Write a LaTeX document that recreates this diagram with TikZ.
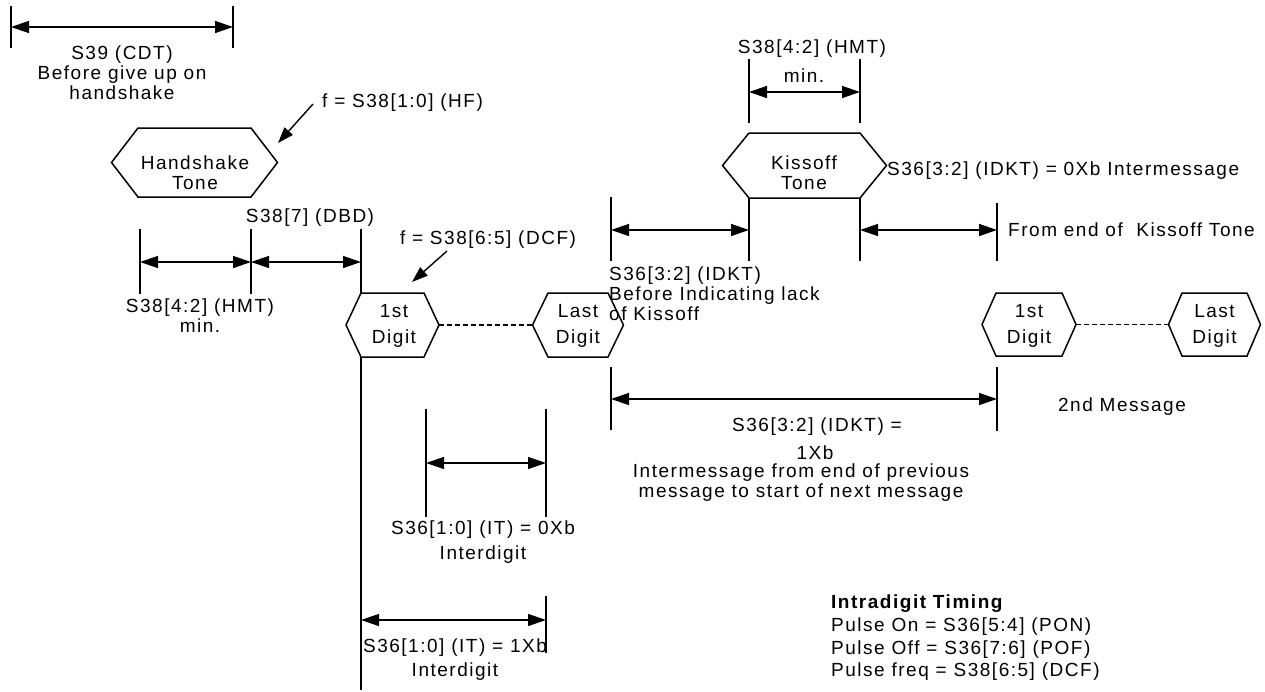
\documentclass[tikz,border=0pt]{standalone}
\usepackage{fontspec}
\setmainfont{Liberation Sans}[LetterSpace=8]
\usetikzlibrary{arrows.meta}
\tikzset{
  ln/.style={line width=1.5pt},
  dimline/.style={line width=1.4pt,{Triangle[length=18pt,width=12pt]}-{Triangle[length=18pt,width=12pt]}},
  ptr/.style={line width=1.4pt,-{Triangle[length=16pt,width=11pt]}},
  dashline/.style={line width=1.2pt,dash pattern=on 5pt off 3pt},
  txt/.style={font=\fontsize{19}{20}\selectfont,inner sep=0pt,align=center},
  txtl/.style={font=\fontsize{19}{20}\selectfont,inner sep=0pt,align=left,anchor=west},
  hexcore/.style={inner sep=0pt,outer sep=0pt,minimum width=#1},
}
\newcommand{\hexoutline}[2]{%
  \draw[ln,line join=miter] (#1.north west) -- (#1.north east) -- ([xshift=#2]#1.east) -- (#1.south east) -- (#1.south west) -- ([xshift=-#2]#1.west) -- cycle;}
\begin{document}
\begin{tikzpicture}[x=1pt,y=-1pt]
\useasboundingbox (0,0) rectangle (1265,691);

% ---------- hexagon cores ----------
\node[hexcore=113,minimum height=69] (hs)  at (194.5,162.5) {};
\node[hexcore=111,minimum height=65] (ko)  at (804.5,165.5) {};
\node[hexcore=63,minimum height=64]  (d1)  at (392.5,325) {};
\node[hexcore=60,minimum height=64]  (dl)  at (578,325) {};
\node[hexcore=66,minimum height=63]  (d2)  at (1029,324.5) {};
\node[hexcore=65,minimum height=63]  (dl2) at (1214.5,324.5) {};
\hexoutline{hs}{26.5}
\hexoutline{ko}{26.5}
\hexoutline{d1}{15}
\hexoutline{dl}{15.5}
\hexoutline{d2}{14}
\hexoutline{dl2}{13.5}

\node[txt] (hst)  at (195,173)   {Handshake\\Tone};
\node[txt] (kot)  at (804,172.5) {Kissoff\\Tone};
\node[txt] (d1t)  at (394,325.5) {1st\\[6pt]Digit};
\node[txt] (dlt)  at (578,325.5) {Last\\[6pt]Digit};
\node[txt] (d2t)  at (1029,326)  {1st\\[6pt]Digit};
\node[txt] (dl2t) at (1214.5,326){Last\\[6pt]Digit};

\draw[dashline] ([xshift=15]d1.east) -- ([xshift=-15.5]dl.west);
\draw[dashline] ([xshift=14]d2.east) -- ([xshift=-13.5]dl2.west);

% ---------- S39 (CDT) ----------
\coordinate (c1t) at (11,6);   \coordinate (c1b) at (11,48);
\coordinate (c2t) at (233,6);  \coordinate (c2b) at (233,48);
\coordinate (c1m) at (11,27);  \coordinate (c2m) at (233,27);
\draw[ln] (c1t) -- (c1b);
\draw[ln] (c2t) -- (c2b);
\draw[dimline] (c1m) -- (c2m);
\node[txt] (cdt) at (122,73) {S39 (CDT)\\Before give up on\\handshake};

% ---------- HF pointer ----------
\node[txtl] (hf) at (322,103) {f = S38[1:0] (HF)};
\coordinate (hfs) at (313,104);
\coordinate (hfe) at (278,143);
\draw[ptr] (hfs) -- (hfe);

% ---------- HMT / DBD (left) ----------
\coordinate (h1t) at (140,229); \coordinate (h1b) at (140,294);
\coordinate (h2t) at (251,229); \coordinate (h2b) at (251,294);
\coordinate (mt)  at (361,229);
\coordinate (mb)  at (361,690);
\coordinate (h1m) at (140,262); \coordinate (h2m) at (251,262); \coordinate (h3m) at (361,262);
\draw[ln] (h1t) -- (h1b);
\draw[ln] (h2t) -- (h2b);
\draw[ln] (mt) -- (d1.north west);
\draw[ln] (d1.south west) -- (mb);
\draw[dimline] (h1m) -- (h2m);
\draw[dimline] (h2m) -- (h3m);
\node[txt] (dbd) at (310,218) {S38[7] (DBD)};
\node[txt] (hmt1) at (200,316) {S38[4:2] (HMT)\\min.};

% ---------- DCF pointer ----------
\node[txt] (dcf) at (488,240) {f = S38[6:5] (DCF)};
\coordinate (dcfs) at (447,251);
\coordinate (dcfe) at (412,282);
\draw[ptr] (dcfs) -- (dcfe);

% ---------- Interdigit 0Xb ----------
\coordinate (i1t) at (426,409); \coordinate (i1b) at (426,517);
\coordinate (i2t) at (546,409); \coordinate (i2b) at (546,517);
\coordinate (i1m) at (426,463); \coordinate (i2m) at (546,463);
\draw[ln] (i1t) -- (i1b);
\draw[ln] (i2t) -- (i2b);
\draw[dimline] (i1m) -- (i2m);
\node[txt] (it0) at (483,542.5) {S36[1:0] (IT) = 0Xb\\[5pt]Interdigit};

% ---------- Interdigit 1Xb ----------
\coordinate (j2t) at (546,596); \coordinate (j2b) at (546,653);
\coordinate (j1m) at (361,620); \coordinate (j2m) at (546,620);
\draw[ln] (j2t) -- (j2b);
\draw[dimline] (j1m) -- (j2m);
\node[txt] (it1) at (455,660) {S36[1:0] (IT) = 1Xb\\[4pt]Interdigit};

% ---------- Kissoff HMT ----------
\coordinate (k1t) at (749,59); \coordinate (k1b) at (749,123);
\coordinate (k2t) at (860,59); \coordinate (k2b) at (860,123);
\coordinate (k1m) at (749,92); \coordinate (k2m) at (860,92);
\draw[ln] (k1t) -- (k1b);
\draw[ln] (k2t) -- (k2b);
\draw[dimline] (k1m) -- (k2m);
\node[txt] (hmt2) at (812,49) {S38[4:2] (HMT)};
\node[txt] (hmt2m) at (804,76) {min.};

% ---------- Kissoff lower dims ----------
\coordinate (kl)  at (749,261);
\coordinate (kr)  at (860,261);
\coordinate (p1t) at (611,197); \coordinate (p1b) at (611,261);
\coordinate (p2t) at (997,203); \coordinate (p2b) at (997,261);
\coordinate (p1m) at (611,230); \coordinate (klm) at (749,230);
\coordinate (krm) at (860,230); \coordinate (p2m) at (997,230);
\draw[ln] (ko.south west) -- (kl);
\draw[ln] (ko.south east) -- (kr);
\draw[ln] (p1t) -- (p1b);
\draw[ln] (p2t) -- (p2b);
\draw[dimline] (p1m) -- (klm);
\draw[dimline] (krm) -- (p2m);
\node[txtl] (idkt0) at (887,171) {S36[3:2] (IDKT) = 0Xb Intermessage};
\node[txtl] (fromend) at (1008,230) {From end of\ \ Kissoff Tone};
\node[txtl] (idkt) at (609,294) {S36[3:2] (IDKT)\\Before Indicating lack\\of Kissoff};

% ---------- Intermessage 1Xb ----------
\coordinate (q1t) at (611,367); \coordinate (q1b) at (611,430);
\coordinate (q2t) at (997,367); \coordinate (q2b) at (997,431);
\coordinate (q1m) at (611,399); \coordinate (q2m) at (997,399);
\draw[ln] (q1t) -- (q1b);
\draw[ln] (q2t) -- (q2b);
\draw[dimline] (q1m) -- (q2m);
\node[txt] (idkt1) at (817,427) {S36[3:2] (IDKT) =};
\node[txt] (idkt1b) at (815,453) {1Xb};
\node[txt] (imsg) at (801,482.5) {Intermessage from end of previous\\message to start of next message};
\node[txt] (msg2) at (1122,407) {2nd Message};

% ---------- Intradigit timing ----------
\node[txtl,font=\fontsize{19}{22.7}\selectfont] (intra) at (831,638)
  {\textbf{Intradigit Timing}\\Pulse On = S36[5:4] (PON)\\Pulse Off = S36[7:6] (POF)\\Pulse freq = S38[6:5] (DCF)};
\end{tikzpicture}
\end{document}
